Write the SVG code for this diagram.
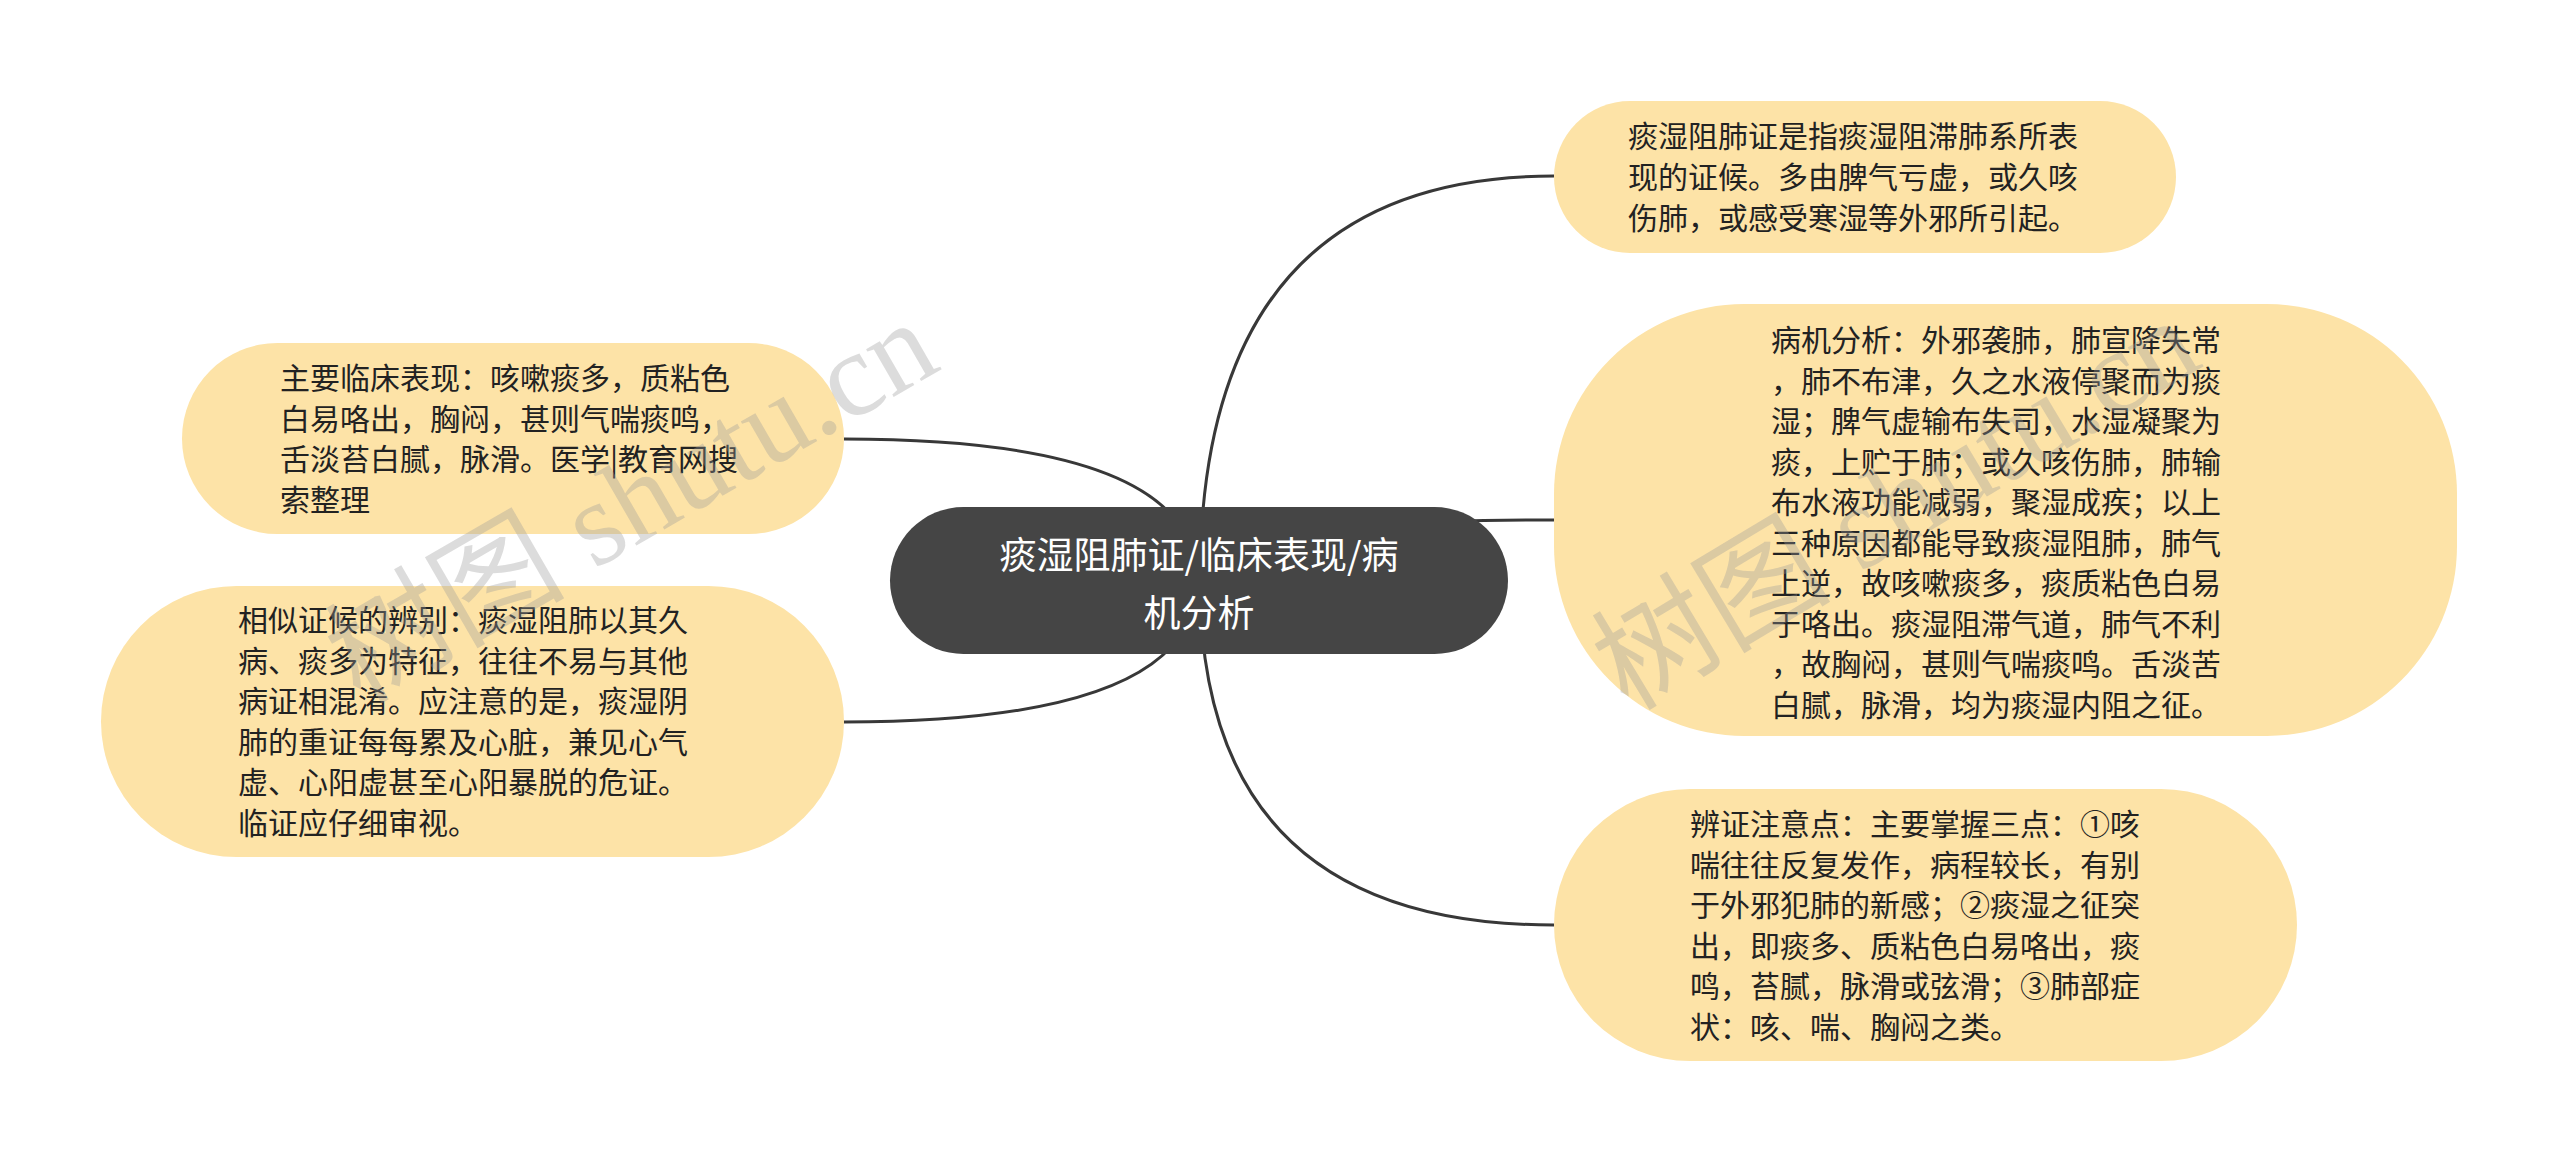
<svg xmlns="http://www.w3.org/2000/svg" width="2560" height="1162" viewBox="0 0 2560 1162">
<style>
.bg{fill:#ffffff}
.conn{fill:none;stroke:#383838;stroke-width:3}
.leaf{fill:#fde3a7}
.root{fill:#454545}
.t{font-family:"Noto Sans CJK SC","Noto Sans",sans-serif;font-size:30px;fill:#222222}
.rt{font-family:"Noto Sans CJK SC","Noto Sans",sans-serif;font-size:37px;fill:#ffffff;text-anchor:middle}
.wm{font-family:"Liberation Serif","Noto Sans CJK SC",serif;font-size:120px;fill:#9a9a9a;fill-opacity:0.35}
</style>
<rect class="bg" x="0" y="0" width="2560" height="1162"/>
<g id="connectors">
<path class="conn" d="M1200 581 Q1200 176 1554 176"/>
<path class="conn" d="M1200 581 Q1200 520 1554 520"/>
<path class="conn" d="M1200 581 Q1200 925 1554 925"/>
<path class="conn" d="M1197 581 Q1197 439 844 439"/>
<path class="conn" d="M1197 581 Q1197 722 844 722"/>
</g>
<g id="root">
<rect class="root" x="890" y="507" width="618" height="147" rx="73.5"/>
<text class="rt" x="1199" y="569">痰湿阻肺证/临床表现/病</text>
<text class="rt" x="1199" y="627">机分析</text>
</g>
<g id="r1">
<rect class="leaf" x="1554" y="101" width="622" height="152" rx="76"/>
<text class="t"><tspan x="1628" y="147">痰湿阻肺证是指痰湿阻滞肺系所表</tspan><tspan x="1628" y="188">现的证候。多由脾气亏虚，或久咳</tspan><tspan x="1628" y="229">伤肺，或感受寒湿等外邪所引起。</tspan></text>
</g>
<g id="r2">
<rect class="leaf" x="1554" y="304" width="903" height="432" rx="190"/>
<text class="t"><tspan x="1771" y="351">病机分析：外邪袭肺，肺宣降失常</tspan><tspan x="1771" y="391.5">，肺不布津，久之水液停聚而为痰</tspan><tspan x="1771" y="432">湿；脾气虚输布失司，水湿凝聚为</tspan><tspan x="1771" y="472.5">痰，上贮于肺；或久咳伤肺，肺输</tspan><tspan x="1771" y="513">布水液功能减弱，聚湿成疾；以上</tspan><tspan x="1771" y="553.5">三种原因都能导致痰湿阻肺，肺气</tspan><tspan x="1771" y="594">上逆，故咳嗽痰多，痰质粘色白易</tspan><tspan x="1771" y="634.5">于咯出。痰湿阻滞气道，肺气不利</tspan><tspan x="1771" y="675">，故胸闷，甚则气喘痰鸣。舌淡苦</tspan><tspan x="1771" y="715.5">白腻，脉滑，均为痰湿内阻之征。</tspan></text>
</g>
<g id="r3">
<rect class="leaf" x="1554" y="789" width="743" height="272" rx="136"/>
<text class="t"><tspan x="1690" y="835">辨证注意点：主要掌握三点：①咳</tspan><tspan x="1690" y="875.5">喘往往反复发作，病程较长，有别</tspan><tspan x="1690" y="916">于外邪犯肺的新感；②痰湿之征突</tspan><tspan x="1690" y="956.5">出，即痰多、质粘色白易咯出，痰</tspan><tspan x="1690" y="997">鸣，苔腻，脉滑或弦滑；③肺部症</tspan><tspan x="1690" y="1037.5">状：咳、喘、胸闷之类。</tspan></text>
</g>
<g id="l1">
<rect class="leaf" x="182" y="343" width="662" height="191" rx="95.5"/>
<text class="t"><tspan x="280" y="389">主要临床表现：咳嗽痰多，质粘色</tspan><tspan x="280" y="429.5">白易咯出，胸闷，甚则气喘痰鸣，</tspan><tspan x="280" y="470">舌淡苔白腻，脉滑。医学|教育网搜</tspan><tspan x="280" y="510.5">索整理</tspan></text>
</g>
<g id="l2">
<rect class="leaf" x="101" y="586" width="743" height="271" rx="135.5"/>
<text class="t"><tspan x="238" y="631">相似证候的辨别：痰湿阻肺以其久</tspan><tspan x="238" y="671.5">病、痰多为特征，往往不易与其他</tspan><tspan x="238" y="712">病证相混淆。应注意的是，痰湿阴</tspan><tspan x="238" y="752.5">肺的重证每每累及心脏，兼见心气</tspan><tspan x="238" y="793">虚、心阳虚甚至心阳暴脱的危证。</tspan><tspan x="238" y="833.5">临证应仔细审视。</tspan></text>
</g>
<text class="wm" transform="translate(360 705) rotate(-30)">树图 shutu.cn</text>
<text class="wm" transform="translate(1628 712) rotate(-31)">树图 shutu.cn</text>
</svg>
